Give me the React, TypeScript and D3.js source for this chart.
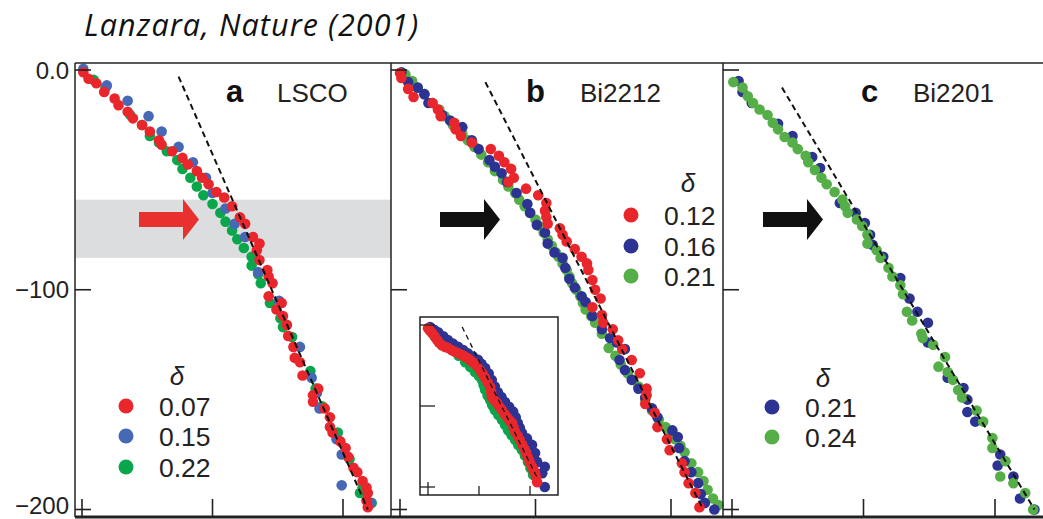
import React from "react";
import * as d3 from "d3";

type P = [number, number];

// ---------- axis ticks ----------
const yTicks = [0, -100, -200];
const yTickLabels = ["0.0", "\u2212100", "\u2212200"];
const xTicks = [0, 1, 2];

// ---------- Panel a: LSCO ----------
const lscoDeltas = ["0.07", "0.15", "0.22"];
const lsco007: P[] = [
  [0.01, -1], [0.05, -4], [0.11, -6], [0.17, -10], [0.25, -13], [0.28, -16], [0.35, -19], [0.39, -22],
  [0.46, -25], [0.52, -28], [0.59, -32], [0.61, -34], [0.69, -37], [0.77, -40], [0.81, -43], [0.88, -46],
  [0.92, -49], [0.97, -52], [1.03, -55.5], [1.09, -58], [1.15, -62], [1.21, -67], [1.25, -70], [1.31, -76],
  [1.36, -79], [1.34, -82], [1.36, -86.5], [1.42, -91], [1.43, -94], [1.46, -97], [1.43, -103], [1.53, -106],
  [1.49, -109], [1.54, -112], [1.57, -116], [1.58, -121], [1.62, -126], [1.63, -131], [1.67, -133],
  [1.69, -139], [1.81, -145], [1.77, -148], [1.77, -151], [1.86, -154], [1.9, -158], [1.9, -162.5],
  [1.92, -165], [1.98, -169], [2.02, -172], [2.04, -176], [2.08, -181], [2.11, -183], [2.15, -187],
  [2.18, -190], [2.19, -192.5], [2.18, -196], [2.19, -199],
];
const lsco015: P[] = [
  [0.01, 0.5], [0.19, -7], [0.35, -14], [0.51, -21], [0.61, -28], [0.74, -35], [0.85, -42], [0.95, -49],
  [1.0, -56], [1.1, -63], [1.17, -70], [1.25, -76], [1.35, -92], [1.51, -105], [1.67, -126], [1.76, -140],
  [1.8, -147], [1.82, -154], [1.95, -168], [1.99, -175], [1.99, -189], [2.21, -197],
];
const lsco022: P[] = [
  [0.09, -4.5], [0.18, -8], [0.37, -20.5], [0.46, -25], [0.52, -30], [0.59, -33], [0.65, -37], [0.73, -41],
  [0.77, -45], [0.83, -49], [0.88, -53], [0.93, -57], [1.0, -61], [1.06, -65], [1.1, -69], [1.15, -73],
  [1.19, -77], [1.24, -81], [1.3, -85], [1.3, -89], [1.35, -93], [1.37, -97], [1.44, -106], [1.52, -113],
  [1.54, -117], [1.61, -121.5], [1.75, -137], [1.79, -145], [1.84, -153], [1.96, -165], [2.05, -177],
  [2.15, -190], [2.13, -192.5], [2.22, -197],
];
const lscoFit: P[] = [[0.74, -3], [2.19, -200]];

// ---------- Panel b: Bi2212 ----------
const bi2212Deltas = ["0.12", "0.16", "0.21"];
const bi2212_012: P[] = [
  [0.0, -1.4], [0.01, -3.6], [0.06, -8.6], [0.1, -12.3], [0.24, -15], [0.28, -18], [0.3, -21], [0.4, -24],
  [0.41, -27], [0.45, -30], [0.53, -33], [0.67, -36], [0.73, -39], [0.77, -42], [0.82, -45], [0.84, -49],
  [0.8, -51], [0.93, -54], [1.02, -57], [1.08, -60.5], [1.07, -64], [1.08, -67], [1.09, -70], [1.18, -72],
  [1.2, -75], [1.23, -78], [1.29, -81.5], [1.34, -85], [1.38, -88], [1.39, -91], [1.42, -95.6], [1.44, -100],
  [1.48, -104], [1.42, -108], [1.49, -111.5], [1.5, -115], [1.57, -118], [1.61, -123], [1.64, -127],
  [1.71, -132], [1.77, -138], [1.82, -145], [1.82, -148], [1.81, -152], [1.88, -156], [1.9, -162.5],
  [1.97, -168], [1.99, -173], [2.08, -179], [2.1, -183], [2.13, -188], [2.18, -192.5], [2.21, -199],
];
const bi2212_016: P[] = [
  [0.01, -1], [0.06, -5.5], [0.13, -8], [0.18, -11], [0.21, -15], [0.31, -20.5], [0.37, -23], [0.46, -26],
  [0.53, -32], [0.58, -36], [0.66, -41], [0.7, -44], [0.75, -47], [0.79, -51], [0.86, -56], [0.94, -61],
  [0.96, -65], [1.01, -70.5], [1.07, -74], [1.09, -79], [1.14, -83], [1.2, -85.5], [1.22, -90], [1.25, -95],
  [1.29, -99], [1.34, -103], [1.37, -105.6], [1.42, -112], [1.49, -118], [1.55, -122], [1.6, -124],
  [1.66, -127], [1.62, -132], [1.66, -136.5], [1.71, -141], [1.76, -145], [1.81, -149], [1.86, -154],
  [1.9, -158], [2.01, -164], [2.05, -167], [2.06, -172], [2.1, -178], [2.15, -183], [2.2, -188],
  [2.22, -193], [2.25, -197], [2.32, -200],
];
const bi2212_021: P[] = [
  [0.04, -2], [0.09, -5], [0.13, -8], [0.18, -11], [0.24, -15], [0.29, -18], [0.33, -21], [0.39, -25],
  [0.46, -29], [0.5, -32], [0.55, -35], [0.6, -38.5], [0.65, -42], [0.7, -46], [0.76, -50], [0.8, -53],
  [0.85, -56], [0.88, -59], [0.92, -62], [0.96, -65], [1.0, -68], [1.03, -71], [1.06, -74], [1.09, -77],
  [1.12, -80], [1.15, -83], [1.17, -85], [1.2, -88], [1.23, -91], [1.25, -94], [1.27, -97], [1.3, -100],
  [1.33, -103], [1.35, -106], [1.37, -109], [1.41, -112], [1.44, -115], [1.49, -120], [1.54, -126.5],
  [1.59, -130], [1.63, -134], [1.68, -138], [1.72, -141], [1.76, -144], [1.81, -150], [1.86, -155],
  [1.91, -159], [1.96, -162.5], [2.0, -165], [2.03, -168], [2.07, -171], [2.1, -174], [2.15, -179],
  [2.2, -183], [2.24, -187], [2.27, -191], [2.31, -195], [2.35, -198],
];
const bi2212Fit: P[] = [[0.63, -5.5], [2.23, -199]];

// inset of panel b (its own scale)
const inset_012: P[] = [
  [0.0, -4], [0.04, -7], [0.08, -10], [0.13, -14], [0.18, -18.5], [0.22, -22], [0.27, -25], [0.33, -27],
  [0.39, -28], [0.46, -31], [0.53, -33], [0.6, -35], [0.67, -37], [0.72, -39], [0.78, -41], [0.84, -44],
  [0.9, -47], [0.96, -51], [1.02, -56], [1.07, -60], [1.12, -65], [1.17, -71], [1.22, -77], [1.24, -83],
  [1.25, -89], [1.3, -93], [1.35, -96], [1.4, -101], [1.45, -105], [1.5, -110], [1.55, -114], [1.6, -118],
  [1.65, -121], [1.68, -127], [1.71, -132], [1.76, -137], [1.8, -142], [1.85, -148], [1.9, -154],
  [1.93, -159], [1.96, -164], [2.0, -170], [2.04, -175], [2.07, -179], [2.1, -183], [2.12, -188], [2.14, -194],
];
const inset_016: P[] = [
  [0.04, -2.5], [0.12, -6], [0.2, -9], [0.3, -14], [0.39, -18.5], [0.49, -23], [0.59, -27], [0.69, -31],
  [0.78, -35], [0.88, -39], [0.98, -43], [1.05, -48], [1.12, -53], [1.19, -60], [1.25, -68], [1.31, -76],
  [1.37, -83], [1.44, -89], [1.51, -95], [1.59, -101], [1.67, -107], [1.72, -114], [1.76, -121], [1.8, -127],
  [1.84, -133], [1.94, -140], [2.04, -148], [2.1, -158], [2.14, -169], [2.29, -175], [2.24, -183], [2.29, -200],
];
const inset_021: P[] = [
  [0.14, -15], [0.3, -23], [0.47, -31], [0.6, -38], [0.73, -46], [0.83, -52], [0.92, -58], [1.0, -63],
  [1.06, -68], [1.09, -74], [1.12, -80], [1.17, -87], [1.22, -93], [1.26, -99], [1.31, -105], [1.38, -111],
  [1.45, -117], [1.51, -123], [1.57, -130], [1.64, -136], [1.71, -142], [1.77, -148], [1.84, -154],
  [1.9, -161], [1.96, -169], [2.01, -177], [2.06, -185],
];
const insetFit: P[] = [[0.67, -2.5], [2.16, -191]];

// ---------- Panel c: Bi2201 ----------
const bi2201Deltas = ["0.21", "0.24"];
const bi2201_021: P[] = [
  [0.05, -5], [0.08, -10], [0.15, -15], [0.35, -24.5], [0.46, -30], [0.61, -39.6], [0.67, -44.6],
  [0.82, -60.5], [0.94, -65], [1.01, -69.6], [1.05, -75], [1.07, -79.6], [1.15, -85], [1.28, -94.7],
  [1.35, -104], [1.41, -110], [1.49, -115], [1.49, -124], [1.64, -140], [1.76, -144.7], [1.79, -150],
  [1.79, -155.6], [1.85, -160], [2.04, -175], [2.02, -180], [2.14, -185], [2.19, -195], [2.3, -200],
];
const bi2201_024: P[] = [
  [0.01, -5.5], [0.08, -8], [0.12, -12], [0.16, -15], [0.21, -18], [0.27, -20.5], [0.31, -24], [0.35, -27],
  [0.4, -30.5], [0.46, -33], [0.5, -36], [0.56, -39], [0.58, -42], [0.63, -45.5], [0.68, -49], [0.72, -52],
  [0.78, -55.5], [0.84, -59], [0.86, -62], [0.88, -65], [0.95, -68], [0.99, -71], [1.03, -75], [1.03, -79],
  [1.1, -82], [1.13, -85.5], [1.19, -90], [1.22, -94], [1.28, -98], [1.3, -102], [1.33, -110], [1.37, -114],
  [1.44, -120], [1.45, -122], [1.53, -125], [1.62, -130.6], [1.57, -135], [1.64, -137.4], [1.68, -141],
  [1.72, -145.6], [1.75, -149], [1.86, -155], [1.91, -160], [1.98, -167.5], [1.98, -172], [2.08, -178],
  [2.04, -185], [2.14, -188], [2.23, -192.5], [2.29, -200],
];
const bi2201Fit: P[] = [[0.38, -8], [2.3, -200]];

// shaded kink band (panel a) and arrow energy
const kinkBand: [number, number] = [-59, -85.5];
const arrowEnergy = -68;

// ---------- styles ----------
const RED = "#e8262c";
const BLUE_A = "#4768b4";
const GREEN_A = "#0aa64c";
const NAVY = "#2c3393";
const GREEN_B = "#55ae47";
const SANS = "'Liberation Sans', Arial, Helvetica, sans-serif";

const W = 1043;
const H = 519;
const TOP = 63;
const BOTTOM = 517;
const yScale = d3.scaleLinear().domain([0, -200]).range([70, 509.5]);

type Series = { data: P[]; color: string };

function Dots({ series, x, y, r }: { series: Series[]; x: d3.ScaleLinear<number, number>; y: d3.ScaleLinear<number, number>; r: number }) {
  return (
    <g>
      {series.map((s, i) => (
        <g key={i} fill={s.color}>
          {s.data.map((d, j) => (
            <circle key={j} cx={x(d[0])} cy={y(d[1])} r={r} />
          ))}
        </g>
      ))}
    </g>
  );
}

function Fit({ d, x, y, w, dash }: { d: P[]; x: d3.ScaleLinear<number, number>; y: d3.ScaleLinear<number, number>; w: number; dash: string }) {
  const line = d3.line<P>().x((p) => x(p[0])).y((p) => y(p[1]));
  return <path d={line(d) || ""} fill="none" stroke="#111" strokeWidth={w} strokeDasharray={dash} />;
}

function Arrow({ tipX, y, color }: { tipX: number; y: number; color: string }) {
  const bodyLen = 44, headLen = 16, bh = 7.5, hh = 20.5;
  const x0 = tipX - headLen - bodyLen;
  const x1 = tipX - headLen;
  const d = `M${x0},${y - bh}L${x1},${y - bh}L${x1},${y - hh}L${tipX},${y}L${x1},${y + hh}L${x1},${y + bh}L${x0},${y + bh}Z`;
  return <path d={d} fill={color} />;
}

function Legend({ x, deltaX, deltaY, ys, labels, colors }: { x: number; deltaX: number; deltaY: number; ys: number[]; labels: string[]; colors: string[] }) {
  return (
    <g fontFamily={SANS}>
      <text x={deltaX} y={deltaY} fontSize={26} fontStyle="italic" textAnchor="middle" fill="#222">δ</text>
      {labels.map((l, i) => (
        <g key={l}>
          <circle cx={x} cy={ys[i]} r={7.5} fill={colors[i]} />
          <text x={x + 33} y={ys[i]} dy="0.36em" fontSize={26.5} fill="#222">{l}</text>
        </g>
      ))}
    </g>
  );
}

function Panel({ left, x, label, name, labelX, nameX }: { left: number; x: d3.ScaleLinear<number, number>; label: string; name: string; labelX: number; nameX: number }) {
  return (
    <g>
      {yTicks.map((t) => (
        <line key={"y" + t} x1={left} x2={left + 16} y1={yScale(t)} y2={yScale(t)} stroke="#222" strokeWidth={1.6} />
      ))}
      {xTicks.map((t) => (
        <line key={"x" + t} x1={x(t)} x2={x(t)} y1={BOTTOM} y2={BOTTOM - 18} stroke="#222" strokeWidth={1.6} />
      ))}
      <text x={labelX} y={102} fontFamily={SANS} fontWeight={900} fontSize={31} fill="#111">{label}</text>
      <text x={nameX} y={102} fontFamily={SANS} fontSize={26} fill="#222">{name}</text>
    </g>
  );
}

export default function App() {
  const xA = d3.scaleLinear().domain([0, 2]).range([82, 343]);
  const xB = d3.scaleLinear().domain([0, 2]).range([400, 671]);
  const xC = d3.scaleLinear().domain([0, 2]).range([732, 995]);
  const xI = d3.scaleLinear().domain([0, 2]).range([428, 530]);
  const yI = d3.scaleLinear().domain([0, -200]).range([325, 487]);
  const aY = yScale(arrowEnergy);
  const R = 5.3;

  return (
    <svg width={W} height={H} style={{ position: "absolute", left: 0, top: 0, background: "#fff" }}>
      <rect x={0} y={0} width={W} height={H} fill="#fff" />
      <text x={84} y={36} fontFamily="'Open Sans', sans-serif" fontStyle="italic" fontSize={30.5} letterSpacing={1.1} fill="#111">
        Lanzara, Nature (2001)
      </text>

      {/* y tick labels */}
      {yTicks.map((t, i) => (
        <text key={t} x={69} y={yScale(t) - (i === 2 ? 4.5 : 0)} dy="0.36em" textAnchor="end" fontFamily={SANS} fontSize={24} fill="#222">
          {yTickLabels[i]}
        </text>
      ))}

      {/* panel a */}
      <rect x={75} y={yScale(kinkBand[0])} width={391 - 75} height={yScale(kinkBand[1]) - yScale(kinkBand[0])} fill="#dcdddf" />
      <Arrow tipX={199} y={aY} color="#e8302e" />
      <Dots series={[{ data: lsco022, color: GREEN_A }, { data: lsco015, color: BLUE_A }, { data: lsco007, color: RED }]} x={xA} y={yScale} r={R} />
      <Fit d={lscoFit} x={xA} y={yScale} w={2} dash="6,4" />
      <Panel left={75} x={xA} label="a" name="LSCO" labelX={226} nameX={277} />
      <Legend x={126} deltaX={177} deltaY={385} ys={[406, 436, 467]} labels={lscoDeltas} colors={[RED, BLUE_A, GREEN_A]} />

      {/* panel b */}
      <Arrow tipX={500} y={aY} color="#111" />
      <Dots series={[{ data: bi2212_021, color: GREEN_B }, { data: bi2212_016, color: NAVY }, { data: bi2212_012, color: RED }]} x={xB} y={yScale} r={R} />
      <Fit d={bi2212Fit} x={xB} y={yScale} w={2} dash="6,4" />
      <Panel left={391} x={xB} label="b" name="Bi2212" labelX={526} nameX={580} />
      <Legend x={631} deltaX={688} deltaY={192} ys={[215, 246, 276]} labels={bi2212Deltas} colors={[RED, NAVY, GREEN_B]} />

      {/* inset */}
      <g>
        <rect x={420} y={317} width={138} height={178} fill="#fff" stroke="#222" strokeWidth={1.5} />
        <Dots series={[{ data: inset_021, color: GREEN_A }, { data: inset_016, color: NAVY }, { data: inset_012, color: RED }]} x={xI} y={yI} r={R} />
        <Fit d={insetFit} x={xI} y={yI} w={1.3} dash="5,4" />
        {yTicks.map((t) => (
          <line key={"iy" + t} x1={420} x2={435} y1={yI(t)} y2={yI(t)} stroke="#222" strokeWidth={1.3} />
        ))}
        {xTicks.map((t) => (
          <line key={"ix" + t} x1={xI(t)} x2={xI(t)} y1={495} y2={t === 0 ? 482 : 486} stroke="#222" strokeWidth={1.3} />
        ))}
      </g>

      {/* panel c */}
      <Arrow tipX={823} y={aY} color="#111" />
      <Dots series={[{ data: bi2201_021, color: NAVY }, { data: bi2201_024, color: GREEN_B }]} x={xC} y={yScale} r={R} />
      <Fit d={bi2201Fit} x={xC} y={yScale} w={2} dash="6,4" />
      <Panel left={723} x={xC} label="c" name="Bi2201" labelX={861} nameX={913} />
      <Legend x={772} deltaX={823} deltaY={387} ys={[407, 437]} labels={bi2201Deltas} colors={[NAVY, GREEN_B]} />

      {/* frames */}
      <line x1={75} x2={W} y1={TOP} y2={TOP} stroke="#222" strokeWidth={1.5} />
      <line x1={75} x2={W} y1={BOTTOM} y2={BOTTOM} stroke="#222" strokeWidth={3} />
      <line x1={75} x2={75} y1={TOP} y2={BOTTOM} stroke="#222" strokeWidth={1.5} />
      <line x1={391} x2={391} y1={TOP} y2={BOTTOM} stroke="#222" strokeWidth={1.5} />
      <line x1={723} x2={723} y1={TOP} y2={BOTTOM} stroke="#222" strokeWidth={1.5} />
    </svg>
  );
}
